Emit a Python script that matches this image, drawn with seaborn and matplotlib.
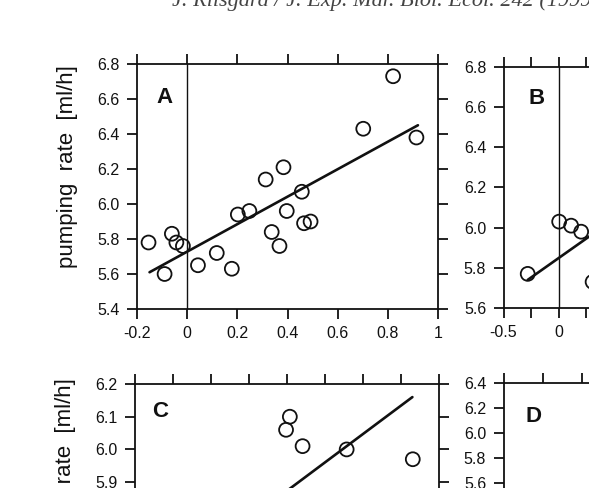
import numpy as np
import matplotlib
matplotlib.use('Agg')
import matplotlib.pyplot as plt
import seaborn as sns

# 面板A数据
a_x = [-0.154, -0.090, -0.061, -0.043, -0.017, 0.043, 0.118, 0.178, 0.202, 0.248,
       0.337, 0.313, 0.368, 0.384, 0.397, 0.457, 0.466, 0.492, 0.702, 0.821, 0.914]
a_y = [5.78, 5.60, 5.83, 5.78, 5.76, 5.65, 5.72, 5.63, 5.94, 5.96,
       5.84, 6.14, 5.76, 6.21, 5.96, 6.07, 5.89, 5.90, 6.43, 6.73, 6.38]
a_fit_x = [-0.15, 0.92]
a_fit_y = [5.61, 6.45]

# 面板B数据（右侧被裁掉）
b_x = [-0.28, 0.006, 0.115, 0.206, 0.31]
b_y = [5.77, 6.03, 6.01, 5.98, 5.73]
b_fit_x = [-0.28, 0.6]
b_fit_y = [5.74, 6.08]

# 面板C数据（下方被裁掉）
c_x = [0.615, 0.595, 0.682, 0.914, 1.262]
c_y = [6.10, 6.06, 6.01, 6.00, 5.97]
c_fit_x = [0.2, 1.26]
c_fit_y = [5.70, 6.16]

a_xticks = [-0.2, 0, 0.2, 0.4, 0.6, 0.8, 1.0]
a_xlabels = ['-0.2', '0', '0.2', '0.4', '0.6', '0.8', '1']
a_yticks = [5.4, 5.6, 5.8, 6.0, 6.2, 6.4, 6.6, 6.8]
b_xticks = [-0.5, -0.25, 0, 0.25, 0.5, 0.75, 1.0, 1.25, 1.5, 1.75, 2.0]
b_xlabels = ['-0.5', '', '0', '', '0.5', '', '1', '', '1.5', '', '2']
b_yticks = [5.6, 5.8, 6.0, 6.2, 6.4, 6.6, 6.8]
c_xticks = [-0.2, 0, 0.2, 0.4, 0.6, 0.8, 1.0, 1.2, 1.4]
c_yticks = [5.5, 5.6, 5.7, 5.8, 5.9, 6.0, 6.1, 6.2]
d_xticks = [0, 0.1, 0.2, 0.3, 0.4, 0.5, 0.6, 0.7, 0.8]
d_yticks = [4.6, 4.8, 5.0, 5.2, 5.4, 5.6, 5.8, 6.0, 6.2, 6.4]

sns.set_style('ticks')
plt.rcParams['font.family'] = ['Liberation Sans', 'DejaVu Sans']
plt.rcParams['axes.unicode_minus'] = False

W, H = 589, 488
INK = '#111111'
fig = plt.figure(figsize=(W / 100, H / 100), dpi=100)


def rect(l, t, r, b):
    return [l / W, 1 - b / H, (r - l) / W, (b - t) / H]


def style_axes(ax):
    for s in ax.spines.values():
        s.set_linewidth(1.3)
        s.set_color(INK)
    ax.tick_params(which='both', direction='out', length=7, width=1.3,
                   top=True, right=True, labeltop=False, labelright=False,
                   labelsize=11.5, pad=5.5, colors=INK)
    ax.set_xlabel('')
    ax.set_ylabel('')


def draw_points(ax, xs, ys, fx, fy):
    sns.scatterplot(x=xs, y=ys, ax=ax, marker='o', s=100,
                    facecolor='none', edgecolor=INK, linewidth=1.3, zorder=3)
    sns.lineplot(x=fx, y=fy, ax=ax, color=INK, linewidth=1.9, zorder=2)


def panel_letter(ax, x, y, s):
    ax.text(x, y, s, transform=ax.transAxes, fontsize=16,
            fontweight='bold', ha='left', va='center', color=INK)


# A
ax_a = fig.add_axes(rect(137, 64, 438, 309))
draw_points(ax_a, a_x, a_y, a_fit_x, a_fit_y)
ax_a.axvline(0, color=INK, linewidth=1.0)
ax_a.set_xlim(-0.2, 1.0)
ax_a.set_ylim(5.4, 6.8)
ax_a.set_xticks(a_xticks)
ax_a.set_xticklabels(a_xlabels)
ax_a.set_yticks(a_yticks)
ax_a.set_yticklabels([f'{v:.1f}' for v in a_yticks])
style_axes(ax_a)
panel_letter(ax_a, 0.065, 0.865, 'A')

# B
ax_b = fig.add_axes(rect(503.5, 67, 778.5, 308))
draw_points(ax_b, b_x, b_y, b_fit_x, b_fit_y)
ax_b.axvline(0, color=INK, linewidth=1.0)
ax_b.set_xlim(-0.5, 2.0)
ax_b.set_ylim(5.6, 6.8)
ax_b.set_xticks(b_xticks)
ax_b.set_xticklabels(b_xlabels)
ax_b.set_yticks(b_yticks)
ax_b.set_yticklabels([f'{v:.1f}' for v in b_yticks])
style_axes(ax_b)
panel_letter(ax_b, 0.09, 0.87, 'B')

# C
ax_c = fig.add_axes(rect(135, 384, 439, 613))
draw_points(ax_c, c_x, c_y, c_fit_x, c_fit_y)
ax_c.set_xlim(-0.2, 1.4)
ax_c.set_ylim(5.5, 6.2)
ax_c.set_xticks(c_xticks)
ax_c.set_yticks(c_yticks)
ax_c.set_yticklabels([f'{v:.1f}' for v in c_yticks])
style_axes(ax_c)
panel_letter(ax_c, 0.055, 0.878, 'C')

# D
ax_d = fig.add_axes(rect(503.5, 383, 815.5, 608))
ax_d.set_xlim(0, 0.8)
ax_d.set_ylim(4.6, 6.4)
ax_d.set_xticks(d_xticks)
ax_d.set_yticks(d_yticks)
ax_d.set_yticklabels([f'{v:.1f}' for v in d_yticks])
style_axes(ax_d)
panel_letter(ax_d, 0.07, 0.85, 'D')

# y轴标签
fig.text(67 / W, 1 - 167 / H, 'pumping  rate  [ml/h]', rotation=90,
         ha='center', va='center', fontsize=16, color=INK)
fig.text(66 / W, 1 - 480 / H, 'pumping  rate  [ml/h]', rotation=90,
         ha='center', va='center', fontsize=16, color=INK)

# 页眉
fig.text(172 / W, 1 - 6 / H, 'J. Riisgård / J. Exp. Mar. Biol. Ecol. 242 (1999)',
         ha='left', va='baseline', fontsize=16, style='italic',
         family='Liberation Serif', color='#444444')

fig.savefig('out.png', dpi=100)
